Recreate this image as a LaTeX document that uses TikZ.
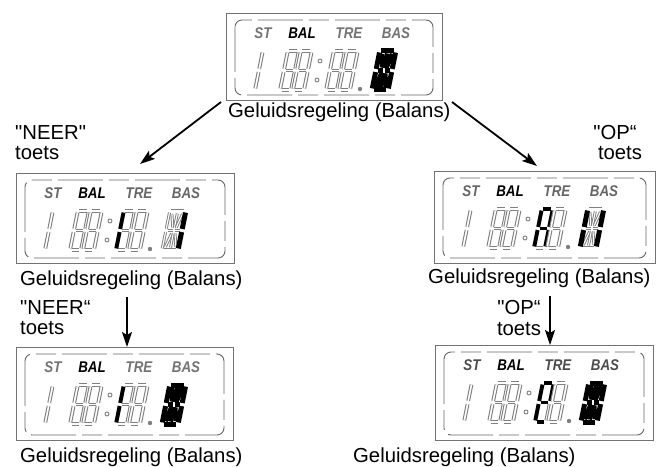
\documentclass[tikz,border=0pt]{standalone}
\usepackage{graphicx}
\usepackage{fontspec}
\setmainfont{Liberation Sans}[Ligatures=TeXOff]
\usetikzlibrary{arrows.meta}

% segment definitions (cell origin bottom-left, y downwards, top at -\ch)
\newcommand\lcdsN[1]{}
\newcommand\lcdsA[1]{\draw[#1] (1.6,-\ch) -- ({\cw-1.6},-\ch);}
\newcommand\lcdsB[1]{\draw[#1] (\cw,{-\ch+1.6}) -- (\cw,{-\ch/2-1.6});}
\newcommand\lcdsC[1]{\draw[#1] (\cw,{-\ch/2+1.6}) -- (\cw,-1.6);}
\newcommand\lcdsD[1]{\draw[#1] (1.6,0) -- ({\cw-1.6},0);}
\newcommand\lcdsE[1]{\draw[#1] (0,{-\ch/2+1.6}) -- (0,-1.6);}
\newcommand\lcdsF[1]{\draw[#1] (0,{-\ch+1.6}) -- (0,{-\ch/2-1.6});}
\newcommand\lcdsG[1]{\draw[#1] (1.6,{-\ch/2}) -- ({\cw-1.6},{-\ch/2});}
\newcommand\lcdsP[1]{\draw[#1] (1.6,{-\ch/2}) -- ({\cw/2-1},{-\ch/2});}
\newcommand\lcdsQ[1]{\draw[#1] ({\cw/2+1},{-\ch/2}) -- ({\cw-1.6},{-\ch/2});}
\newcommand\lcdsH[1]{\draw[#1] (2.7,{-\ch+3}) -- ({\cw/2-1.7},{-\ch/2-3});}
\newcommand\lcdsI[1]{\draw[#1] ({\cw/2},{-\ch+2.5}) -- ({\cw/2},{-\ch/2-2.5});}
\newcommand\lcdsJ[1]{\draw[#1] ({\cw-2.7},{-\ch+3}) -- ({\cw/2+1.7},{-\ch/2-3});}
\newcommand\lcdsK[1]{\draw[#1] (2.7,-3) -- ({\cw/2-1.7},{-\ch/2+3});}
\newcommand\lcdsL[1]{\draw[#1] ({\cw/2},{-\ch/2+2.5}) -- ({\cw/2},-2.5);}
\newcommand\lcdsM[1]{\draw[#1] ({\cw-2.7},-3) -- ({\cw/2+1.7},{-\ch/2+3});}

\newcommand\lcdone[2]{%
  \begin{scope}[shift={(#1,#2)}, xslant=0.2]
    \def\cw{0}\def\ch{39}
    \lcdsE{segoff}\lcdsF{segoff}
  \end{scope}}
\newcommand\lcdseven[3]{%
  \begin{scope}[shift={(#1,#2)}, xslant=0.2]
    \def\cw{11}\def\ch{39}
    \foreach \s in {A,B,C,D,E,F,G} {\csname lcds\s\endcsname{segoff}}
    \foreach \s in {#3} {\csname lcds\s\endcsname{segon}}
  \end{scope}}
\newcommand\lcdfourteen[3]{%
  \begin{scope}[shift={(#1,#2)}, xslant=0.2]
    \def\cw{16}\def\ch{39}
    \foreach \s in {A,B,C,D,E,F,P,Q,H,I,J,K,L,M} {\csname lcds\s\endcsname{segoffb}}
    \foreach \s in {#3} {\csname lcds\s\endcsname{segonb}}
  \end{scope}}

\newcommand\lcdtxt[1]{\scalebox{0.86}[1]{#1}}

% #1 name, #2 x, #3 y, #4 w, #5 h, #6 TRE digit active, #7 big digit active, #8 label colour
\newcommand\lcdpanel[8]{%
  \node[panel, minimum width=#4bp, minimum height=#5bp, anchor=north west] (#1) at (#2,#3) {};
  \begin{scope}[shift={(#2,#3)}]
    \draw[innerbox] (9,7) rectangle ({#4-9},{#5-5});
    \node[lcdlab, text=#8] (#1-st) at (37,20) {\lcdtxt{ST}};
    \node[lcdlab] (#1-bal) at (76,20) {\lcdtxt{BAL}};
    \node[lcdlab, text=#8] (#1-tre) at (123,20) {\lcdtxt{TRE}};
    \node[lcdlab, text=#8] (#1-bas) at (170,20) {\lcdtxt{BAS}};
    \lcdone{29}{77}
    \lcdseven{54}{77}{N}
    \lcdseven{67}{77}{N}
    \draw[dotoff] (94,48) circle (2);
    \draw[dotoff] (91,67) circle (2);
    \lcdseven{100}{77}{#6}
    \lcdseven{113}{77}{N}
    \fill[black!50] (134,76) circle (2.2);
    \lcdfourteen{146}{77}{#7}
  \end{scope}}

\tikzset{
  panel/.style={draw=black!55, line width=1.1bp, inner sep=0pt, fill=none},
  innerbox/.style={draw=black!60, line width=0.9bp, rounded corners=7bp,
    dash pattern=on 45bp off 6bp on 20bp off 6bp},
  lcdlab/.style={inner sep=0pt, font=\fontsize{15.5bp}{16bp}\selectfont\bfseries\itshape},
  segoff/.style={draw=black!50, line width=3.8bp, postaction={draw=white, line width=1.6bp}},
  segon/.style={draw=black, line width=3.8bp},
  segoffb/.style={draw=black!50, line width=3bp, postaction={draw=white, line width=1.1bp}},
  segonb/.style={draw=black, line width=5bp},
  dotoff/.style={draw=black!50, line width=0.9bp, fill=white},
  caption/.style={inner sep=0pt, anchor=base west, font=\fontsize{20.3bp}{24bp}\selectfont},
  keylab/.style={inner sep=0pt, font=\fontsize{20.3bp}{24bp}\selectfont},
  arr/.style={line width=1.8bp, -{Stealth[length=15bp, width=10bp, inset=3bp]}}
}

\begin{document}
\begin{tikzpicture}[x=1bp, y=-1bp]
\useasboundingbox (0,0) rectangle (667,467);

\lcdpanel{p1}{226}{13}{216}{87}{N}{A,B,C,D,E,F,P,Q,H,I,J,K,L,M}{black!55}
\lcdpanel{p2}{16}{173}{218}{90}{E,F}{B,C}{black!60}
\lcdpanel{p3}{434}{171}{221}{92}{A,B,F,G,E,C}{B,C,E,F}{black!60}
\lcdpanel{p4}{16}{347}{217}{93}{E,F}{A,B,C,D,E,F,P,Q,H,I,J,K,L,M}{black!55}
\lcdpanel{p5}{435}{345}{218}{95}{A,B,F,G,E,D}{A,B,C,D,E,F,P,Q,H,I,J,K,L,M}{black!70}

\node[caption] (c1) at (228,118) {Geluidsregeling (Balans)};
\node[caption] (c2) at (20,286) {Geluidsregeling (Balans)};
\node[caption] (c3) at (428,284) {Geluidsregeling (Balans)};
\node[caption] (c4) at (20,462) {Geluidsregeling (Balans)};
\node[caption] (c5) at (353,462) {Geluidsregeling (Balans)};

\node[keylab, anchor=base west] (k1a) at (15,140) {"NEER"};
\node[keylab, anchor=base west] (k1b) at (15,160) {toets};
\node[keylab, anchor=base] (k2a) at (615,140) {"OP“};
\node[keylab, anchor=base] (k2b) at (620,160) {toets};
\node[keylab, anchor=base west] (k3a) at (20,315) {"NEER“};
\node[keylab, anchor=base west] (k3b) at (20,334) {toets};
\node[keylab, anchor=base] (k4a) at (519,315) {"OP“};
\node[keylab, anchor=base] (k4b) at (519,335) {toets};

\coordinate (a1s) at (221,102);
\coordinate (a1e) at (140,164);
\coordinate (a2s) at (452,102);
\coordinate (a2e) at (537,166);
\coordinate (a3s) at (127,297);
\coordinate (a3e) at (127,347);
\coordinate (a4s) at (550,296);
\coordinate (a4e) at (550,345);
\draw[arr] (a1s) -- (a1e);
\draw[arr] (a2s) -- (a2e);
\draw[arr] (a3s) -- (a3e);
\draw[arr] (a4s) -- (a4e);
\end{tikzpicture}
\end{document}
